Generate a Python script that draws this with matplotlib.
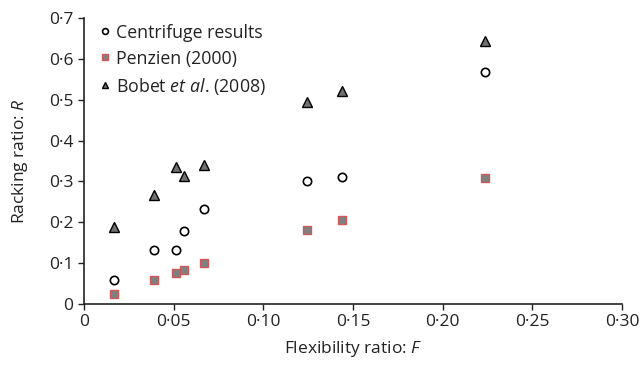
import matplotlib
matplotlib.use("Agg")
import matplotlib.pyplot as plt

plt.rcParams['font.family'] = ['Open Sans', 'DejaVu Sans']
plt.rcParams['mathtext.fontset'] = 'custom'
plt.rcParams['mathtext.it'] = 'Open Sans:italic'
plt.rcParams['mathtext.rm'] = 'Open Sans'

flex = [0.0165, 0.0388, 0.0515, 0.0555, 0.067, 0.1246, 0.1438, 0.2236]
centrifuge = [0.059, 0.131, 0.131, 0.178, 0.233, 0.302, 0.312, 0.568]
penzien = [0.025, 0.058, 0.0765, 0.083, 0.0995, 0.18, 0.206, 0.308]
bobet = [0.188, 0.268, 0.336, 0.313, 0.341, 0.494, 0.522, 0.644]

xticks = [0, 0.05, 0.10, 0.15, 0.20, 0.25, 0.30]
xlabels = ['0', '0·05', '0·10', '0·15', '0·20', '0·25', '0·30']
yticks = [0, 0.1, 0.2, 0.3, 0.4, 0.5, 0.6, 0.7]
ylabels = ['0', '0·1', '0·2', '0·3', '0·4', '0·5', '0·6', '0·7']

fig = plt.figure(figsize=(6.42, 3.66), dpi=100)
ax = fig.add_axes([84/642, 1 - 304/366, (622-84)/642, (304-18)/366])

ax.plot(flex, centrifuge, linestyle='none', marker='o', markersize=6,
        markerfacecolor='white', markeredgecolor='black', markeredgewidth=1.2,
        label='Centrifuge results')
ax.plot(flex, penzien, linestyle='none', marker='s', markersize=6.2,
        markerfacecolor='#808080', markeredgecolor='#d05858', markeredgewidth=1.0,
        label='Penzien (2000)')
ax.plot(flex, bobet, linestyle='none', marker='^', markersize=6.5,
        markerfacecolor='#707070', markeredgecolor='black', markeredgewidth=1.0,
        label=r'Bobet $\it{et\ al}$. (2008)')

ax.set_xlim(0, 0.30)
ax.set_ylim(0, 0.70)
ax.set_xticks(xticks)
ax.set_xticklabels(xlabels)
ax.set_yticks(yticks)
ax.set_yticklabels(ylabels)
ax.tick_params(direction='out', length=4, width=1, labelsize=12.5, colors='#222222')
for s in ['top', 'right']:
    ax.spines[s].set_visible(False)
for s in ['left', 'bottom']:
    ax.spines[s].set_linewidth(1.2)
    ax.spines[s].set_color('#222222')

ax.set_xlabel(r'Flexibility ratio: $\it{F}$', fontsize=12.5, labelpad=6, color='#222222')
ax.set_ylabel(r'Racking ratio: $\it{R}$', fontsize=12.5, labelpad=14, color='#222222')

leg = ax.legend(loc='upper left', bbox_to_anchor=(0.018, 1.005), frameon=False,
                fontsize=12.8, handlelength=0.5, handletextpad=0.35,
                labelspacing=0.45, borderaxespad=0, markerscale=0.7)
for t in leg.get_texts():
    t.set_color('#222222')

fig.savefig('out.png', dpi=100)
